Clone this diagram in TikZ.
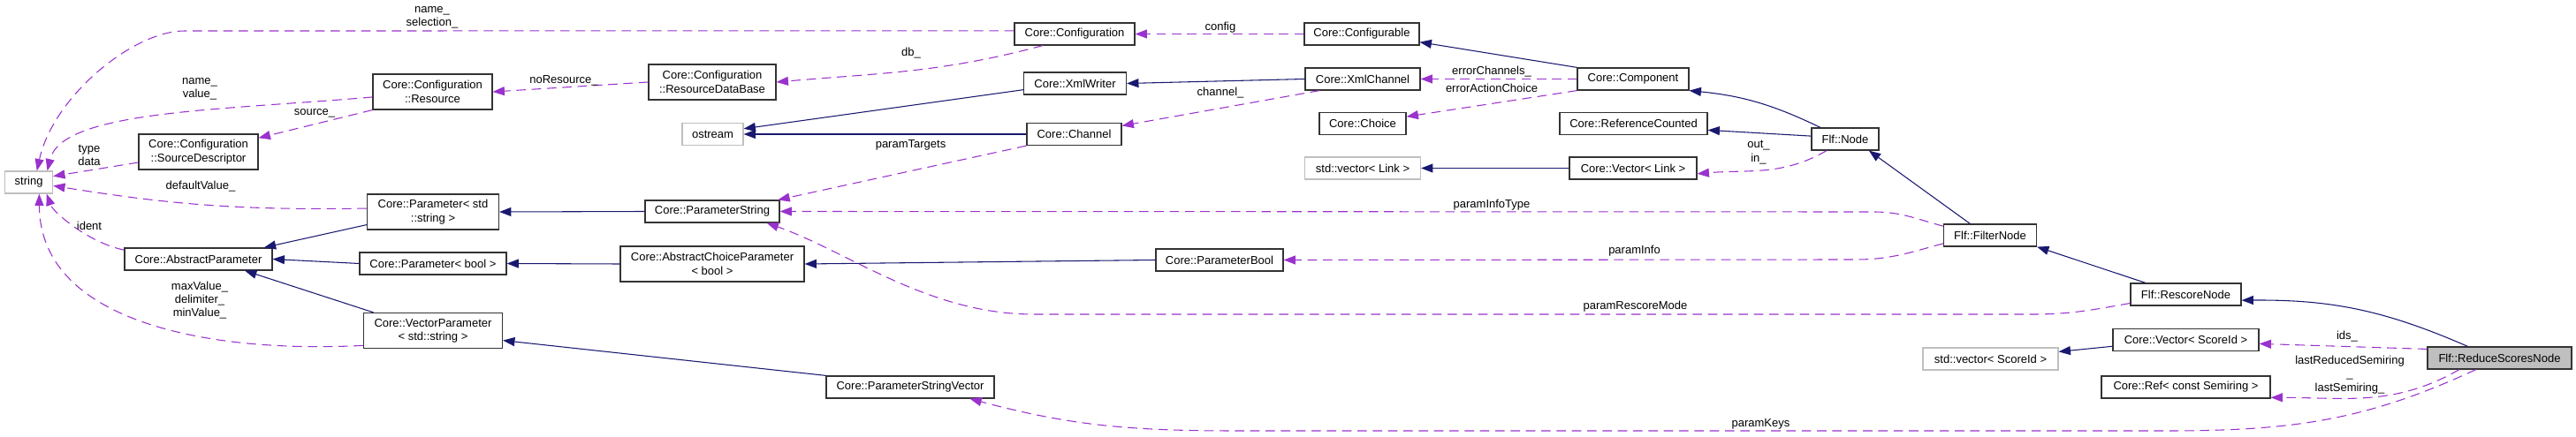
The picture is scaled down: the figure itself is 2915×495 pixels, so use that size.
\documentclass[tikz,border=0pt]{standalone}
\usepackage{fontspec}
\setmainfont{Liberation Sans}
\usetikzlibrary{arrows.meta}
\definecolor{inhblue}{HTML}{191970}
\definecolor{usepurple}{HTML}{9A32CD}
\definecolor{grey75}{HTML}{BFBFBF}

\begin{document}
\begin{tikzpicture}[x=0.75pt, y=-0.75pt,
  every node/.style={font=\fontsize{9.75}{11.5}\selectfont},
  cls/.style={draw=black!80, line width=0.9pt, fill=white, align=center, inner xsep=2pt, inner ysep=1pt, minimum height=18.75pt},
  extcls/.style={cls, draw=grey75},
  bw/.style={minimum width=#1*0.75pt},
  tall/.style={minimum height=30pt},
  lbl/.style={align=center, inner sep=0pt},
  inh/.style={draw=inhblue, line width=0.8pt, -{Triangle[length=10pt,width=7.5pt]}},
  member/.style={draw=usepurple, line width=0.8pt, dash pattern=on 8pt off 5pt, -{Triangle[length=10pt,width=7.5pt]}}]
\useasboundingbox (0,0) rectangle (2915,495);

\node[extcls, bw=54] (str) at (32.6,206.5) {string};
\node[cls, bw=135, tall] (srcdesc) at (224.5,172) {Core::Configuration\\::SourceDescriptor};
\node[cls, bw=167] (absparam) at (224.5,293.5) {Core::AbstractParameter};
\node[cls, bw=135, tall] (resource) at (489.5,104) {Core::Configuration\\::Resource};
\node[cls, bw=149, tall] (paramstd) at (490,240) {Core::Parameter< std\\::string >};
\node[cls, bw=166] (parambool) at (490,298.5) {Core::Parameter< bool >};
\node[cls, bw=157, tall] (vecparam) at (490,374.5) {Core::VectorParameter\\< std::string >};
\node[cls, bw=144, tall] (resdb) at (806,93) {Core::Configuration\\::ResourceDataBase};
\node[extcls, bw=69] (ostream) at (806.5,152) {ostream};
\node[cls, bw=152] (paramstring) at (806,239.5) {Core::ParameterString};
\node[cls, bw=208, tall] (abschoice) at (806,299) {Core::AbstractChoiceParameter\\< bool >};
\node[cls, bw=190] (strvec) at (1030,438.5) {Core::ParameterStringVector};
\node[cls, bw=136] (config) at (1216,38.5) {Core::Configuration};
\node[cls, bw=116] (xmlwriter) at (1216.5,94.5) {Core::XmlWriter};
\node[cls, bw=107] (channel) at (1215.5,152) {Core::Channel};
\node[cls, bw=144] (paramboolc) at (1380,294.5) {Core::ParameterBool};
\node[cls, bw=130] (configurable) at (1541,38.5) {Core::Configurable};
\node[cls, bw=130] (xmlchannel) at (1542,89.5) {Core::XmlChannel};
\node[cls, bw=98] (choice) at (1542,140) {Core::Choice};
\node[extcls, bw=131] (stdveclink) at (1542,190.5) {std::vector< Link >};
\node[cls, bw=126] (component) at (1848,89.5) {Core::Component};
\node[cls, bw=167] (refcounted) at (1848.5,140) {Core::ReferenceCounted};
\node[cls, bw=144] (veclink) at (1848,190.5) {Core::Vector< Link >};
\node[cls, bw=76] (flfnode) at (2088,157.5) {Flf::Node};
\node[cls, bw=105] (filternode) at (2252,266.5) {Flf::FilterNode};
\node[cls, bw=125] (rescorenode) at (2473.5,333.5) {Flf::RescoreNode};
\node[cls, bw=165] (vecscore) at (2473.5,385) {Core::Vector< ScoreId >};
\node[extcls, bw=153] (stdvecscore) at (2252.5,406.5) {std::vector< ScoreId >};
\node[cls, bw=163, fill=grey75] (reducenode) at (2828.5,405.5) {Flf::ReduceScoresNode};
\node[cls, bw=191] (semiring) at (2473.5,438.5) {Core::Ref< const Semiring >};

\draw[inh] (paramstd.191) -- (absparam.10);
\draw[inh] (parambool.west) -- (absparam.east);
\draw[inh] (vecparam.163) -- (absparam.-14);
\draw[inh] (paramstring.west) -- (paramstd.east);
\draw[inh] (abschoice.west) -- (parambool.east);
\draw[inh] (paramboolc.west) -- (abschoice.east);
\draw[inh] (strvec.north west) -- (vecparam.-8);
\draw[inh] (xmlwriter.187) -- (ostream.10);
\draw[inh] (channel.west) -- (ostream.east);
\draw[inh] (xmlchannel.west) -- (xmlwriter.east);
\draw[inh] (component.north west) -- (configurable.-8);
\draw[inh] (flfnode.155) to[bend right=10] (component.south east);
\draw[inh] (flfnode.175) -- (refcounted.-5);
\draw[inh] (veclink.west) -- (stdveclink.east);
\draw[inh] (filternode.150) -- (flfnode.-26);
\draw[inh] (rescorenode.164) -- (filternode.south east);
\draw[inh] (reducenode.160) to[bend right=12] (rescorenode.-6);
\draw[inh] (vecscore.185) -- (stdvecscore.6);

\draw[member] (config.177) -- (209,35) .. controls (150,35) and (60,110) .. (str.55);
\draw[member] (resource.185) .. controls (250,125) and (70,125) .. (str.32);
\draw[member] (srcdesc.190) -- (str.14);
\draw[member] (paramstd.177) to[bend left=5] (str.-8);
\draw[member] (absparam.173) .. controls (100,275) and (60,240) .. (str.-33);
\draw[member] (vecparam.192) .. controls (250,400) and (45,370) .. (str.-48);
\draw[member] (resource.south west) -- (srcdesc.13);
\draw[member] (resdb.west) -- (resource.east);
\draw[member] (config.200) to[out=195,in=5] (resdb.east);
\draw[member] (configurable.west) -- (config.east);
\draw[member] (xmlchannel.195) -- (channel.10);
\draw[member] (channel.south west) -- (paramstring.10);
\draw[member] (component.west) -- (xmlchannel.east);
\draw[member] (component.south west) -- (choice.9);
\draw[member] (flfnode.212) to[out=210,in=5] (veclink.-5);
\draw[member] (filternode.169) to[out=165,in=0] (2120,240) -- (paramstring.east);
\draw[member] (filternode.190) to[out=195,in=0] (2100,294) -- (paramboolc.east);
\draw[member] (rescorenode.189) to[out=190,in=0] (2300,356) -- (1170,356) .. controls (1050,356) and (960,285) .. (paramstring.-12);
\draw[member] (reducenode.173) -- (vecscore.-3);
\draw[member] (reducenode.196) to[out=210,in=0] (semiring.-7);
\draw[member] (reducenode.206) to[out=205,in=0] (2450,488) -- (1400,488) to[out=180,in=-15] (strvec.-11);

\node[lbl] (lsel) at (489,19.5) {name\_\\selection\_};
\node[lbl] (lnameval) at (226,100.5) {name\_\\value\_};
\node[lbl] (lsource) at (356,128) {source\_};
\node[lbl] (ltype) at (101,176) {type\\data};
\node[lbl] (ldefault) at (227,211) {defaultValue\_};
\node[lbl] (lident) at (101,256) {ident};
\node[lbl] (lmax) at (226,340) {maxValue\_\\delimiter\_\\minValue\_};
\node[lbl] (lnores) at (638,91) {noResource\_};
\node[lbl] (ldb) at (1031,60) {db\_};
\node[lbl] (lconfig) at (1381,31) {config};
\node[lbl] (lchannel) at (1381,105) {channel\_};
\node[lbl] (ltargets) at (1030.5,164) {paramTargets};
\node[lbl] (lerrch) at (1688,81) {errorChannels\_};
\node[lbl] (lerract) at (1688,100) {errorActionChoice};
\node[lbl] (loutin) at (1990,172.5) {out\_\\in\_};
\node[lbl] (linfotype) at (1688,232) {paramInfoType};
\node[lbl] (linfo) at (1849.5,284) {paramInfo};
\node[lbl] (lrescore) at (1850.5,347) {paramRescoreMode};
\node[lbl] (lkeys) at (1992.5,480) {paramKeys};
\node[lbl] (lids) at (2656,381) {ids\_};
\node[lbl] (lsemi) at (2659,424.5) {lastReducedSemiring\\\_\\lastSemiring\_};
\end{tikzpicture}
\end{document}
